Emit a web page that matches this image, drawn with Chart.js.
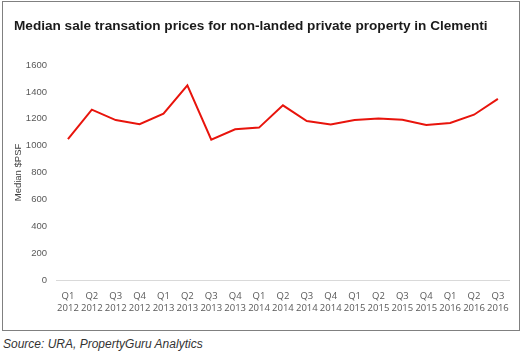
<!DOCTYPE html>
<html>
<head>
<meta charset="utf-8">
<script src="https://cdn.jsdelivr.net/npm/chart.js@4/dist/chart.umd.min.js"></script>
<style>
  body { margin: 0; background: #fff; }
  #box { position: absolute; left: 2px; top: 1px; width: 516px; height: 328px; border: 1px solid #808080; }
  #title { position: absolute; left: 11px; top: 16px; font: bold 13.6px "Liberation Sans", Arial, sans-serif; color: #1a1a1a; white-space: nowrap; }
  #chart { position: absolute; left: 0; top: 0; }
  #source { position: absolute; left: 3px; top: 337px; font: italic 12px "Liberation Sans", Arial, sans-serif; color: #333; }
</style>
</head>
<body>
<div id="box">
  <canvas id="chart" width="516" height="328"></canvas>
  <div id="title">Median sale transation prices for non-landed private property in Clementi</div>
</div>
<div id="source">Source: URA, PropertyGuru Analytics</div>
<script>
// Quarters and median $PSF
let quarters = ["Q1", "Q2", "Q3", "Q4", "Q1", "Q2", "Q3", "Q4", "Q1", "Q2", "Q3", "Q4", "Q1", "Q2", "Q3", "Q4", "Q1", "Q2", "Q3"];
let years = ["2012", "2012", "2012", "2012", "2013", "2013", "2013", "2013", "2014", "2014", "2014", "2014", "2015", "2015", "2015", "2015", "2016", "2016", "2016"];
let medianPsf = [1048, 1268, 1190, 1160, 1238, 1449, 1045, 1122, 1134, 1300, 1183, 1158, 1190, 1202, 1192, 1153, 1168, 1230, 1348];
let yTicks = [0, 200, 400, 600, 800, 1000, 1200, 1400, 1600];

let labels = quarters.map((q, i) => [q, years[i]]);
let xFont = { family: "'Open Sans', 'Noto Sans', sans-serif", size: 9.5, lineHeight: 1.3 };
let yFont = { family: "'Liberation Sans', Arial, sans-serif", size: 9.5 };

new Chart(document.getElementById("chart").getContext("2d"), {
    type: "line",
    data: {
        labels: labels,
        datasets: [{
            data: medianPsf,
            borderColor: "#e8140c",
            borderWidth: 2,
            pointRadius: 0,
            tension: 0,
            fill: false
        }]
    },
    options: {
        responsive: false,
        animation: false,
        layout: { padding: { top: 63, right: 9, left: 10, bottom: 0 } },
        plugins: { legend: { display: false }, title: { display: false }, tooltip: { enabled: false } },
        scales: {
            x: {
                offset: true,
                grid: { display: false, drawTicks: false },
                border: { display: true, color: "#d9d9d9", width: 1 },
                ticks: { color: "#595959", font: xFont, padding: 10, maxRotation: 0, autoSkip: false },
                afterFit: function(scale) { scale.height = 50; }
            },
            y: {
                min: 0,
                max: 1600,
                afterBuildTicks: function(scale) { scale.ticks = yTicks.map(v => ({ value: v })); },
                grid: { display: false, drawTicks: false },
                border: { display: false },
                ticks: { color: "#595959", font: yFont, padding: 9, callback: v => String(v) },
                title: { display: true, text: "Median $PSF", color: "#404040", font: yFont, padding: 0 },
                afterFit: function(scale) { scale.width = 43; }
            }
        }
    }
});
</script>
</body>
</html>
